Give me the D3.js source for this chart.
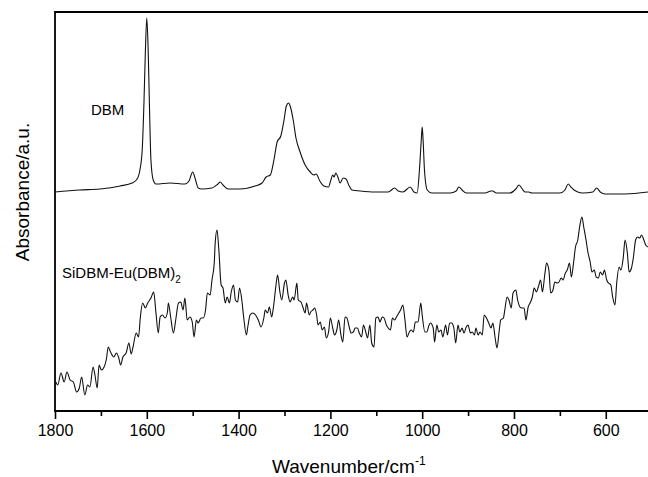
<!doctype html>
<html>
<head>
<meta charset="utf-8">
<style>
  body { margin: 0; background: #fff; }
  svg { display: block; }
  text { font-family: 'Liberation Sans', Arial, sans-serif; fill: #000; }
  .frame { fill: none; stroke: #000; stroke-width: 1.8; }
  .spectrum { fill: none; stroke: #111; stroke-width: 1.1; stroke-linejoin: round; }
  .tick line { stroke: #000; stroke-width: 1.6; }
  .tick text { font-size: 16px; }
  .label { font-size: 15px; }
  .axis-title { font-size: 19px; }
</style>
<script src="https://d3js.org/d3.v7.min.js"></script>
</head>
<body>
<svg width="648" height="477"></svg>
<script>
// [wavenumber (cm-1), absorbance (a.u.)]
const dbm = [
  [1800,2.19],[1746,2.21],[1702,2.22],[1658,2.25],[1632,2.28],[1621,2.32],[1615,2.41],
  [1610,2.61],[1606,3.11],[1603,3.61],[1600,3.93],[1597,3.61],[1594,3.01],[1591,2.51],
  [1586,2.31],[1580,2.27],[1549,2.28],[1517,2.27],[1508,2.30],[1500,2.39],[1495,2.33],
  [1488,2.23],[1480,2.22],[1458,2.23],[1445,2.27],[1440,2.29],[1434,2.26],[1423,2.22],
  [1397,2.22],[1364,2.25],[1349,2.28],[1340,2.34],[1331,2.36],[1323,2.51],[1316,2.69],
  [1308,2.75],[1301,2.91],[1296,3.05],[1291,3.08],[1287,3.04],[1281,2.91],[1275,2.73],
  [1266,2.59],[1255,2.46],[1244,2.39],[1236,2.36],[1231,2.37],[1223,2.30],[1214,2.25],
  [1204,2.24],[1199,2.31],[1195,2.36],[1192,2.34],[1188,2.38],[1183,2.33],[1179,2.28],
  [1172,2.33],[1166,2.32],[1159,2.25],[1153,2.21],[1135,2.20],[1103,2.19],[1074,2.19],
  [1060,2.23],[1052,2.20],[1042,2.19],[1026,2.24],[1018,2.19],[1011,2.18],[1006,2.41],
  [1002,2.71],[1000,2.84],[998,2.71],[995,2.41],[989,2.21],[979,2.18],[939,2.18],
  [926,2.20],[920,2.24],[913,2.21],[904,2.18],[863,2.18],[850,2.20],[846,2.20],[839,2.18],
  [809,2.18],[796,2.22],[789,2.26],[782,2.22],[776,2.19],[768,2.19],[761,2.18],[700,2.18],
  [689,2.21],[682,2.27],[676,2.24],[669,2.21],[661,2.19],[650,2.18],[628,2.19],[620,2.23],
  [612,2.19],[602,2.17],[558,2.17],[508,2.19]
];

const sidbm = [
  [1798,0.29],[1794,0.26],[1787,0.38],[1780,0.29],[1774,0.39],[1767,0.31],[1760,0.29],
  [1753,0.19],[1747,0.23],[1742,0.34],[1735,0.16],[1729,0.26],[1724,0.24],[1717,0.44],
  [1713,0.36],[1708,0.23],[1704,0.46],[1699,0.41],[1693,0.44],[1688,0.52],[1684,0.64],
  [1679,0.59],[1672,0.54],[1666,0.58],[1661,0.53],[1657,0.46],[1652,0.54],[1645,0.58],
  [1639,0.68],[1634,0.57],[1630,0.64],[1623,0.78],[1618,0.74],[1614,0.94],[1609,1.08],
  [1603,1.03],[1598,1.08],[1591,1.13],[1585,1.19],[1580,0.98],[1575,0.78],[1571,0.94],
  [1566,0.96],[1560,0.93],[1555,0.99],[1553,1.08],[1548,0.94],[1542,0.78],[1537,0.91],
  [1531,1.08],[1526,1.09],[1521,1.01],[1517,1.13],[1512,0.91],[1506,0.94],[1501,0.89],
  [1497,0.74],[1492,0.91],[1488,0.88],[1482,0.93],[1477,0.93],[1472,1.01],[1468,1.18],
  [1462,1.16],[1458,1.31],[1453,1.48],[1451,1.68],[1447,1.81],[1443,1.61],[1438,1.26],
  [1434,1.23],[1429,1.08],[1425,1.14],[1420,1.08],[1416,1.19],[1411,1.26],[1407,1.11],
  [1402,1.09],[1398,1.23],[1393,1.11],[1389,0.94],[1383,0.76],[1380,0.84],[1375,0.96],
  [1369,0.98],[1363,0.96],[1357,0.91],[1351,0.84],[1345,0.93],[1342,1.01],[1337,0.98],
  [1333,1.04],[1328,0.94],[1324,1.04],[1319,1.24],[1315,1.36],[1310,1.19],[1306,1.11],
  [1300,1.28],[1297,1.31],[1292,1.16],[1288,1.09],[1282,1.14],[1279,1.11],[1273,1.28],
  [1270,1.11],[1264,1.09],[1260,1.04],[1255,0.98],[1252,1.08],[1246,0.96],[1243,0.99],
  [1238,1.01],[1234,1.03],[1230,0.96],[1227,0.86],[1222,0.89],[1218,0.81],[1213,0.84],
  [1209,0.73],[1204,0.79],[1200,0.93],[1195,0.83],[1191,0.76],[1186,0.81],[1182,0.91],
  [1177,0.76],[1173,0.69],[1168,0.94],[1164,0.93],[1159,0.84],[1155,0.78],[1150,0.79],
  [1146,0.83],[1141,0.83],[1137,0.78],[1132,0.74],[1128,0.86],[1123,0.79],[1119,0.73],
  [1114,0.86],[1110,0.68],[1105,0.64],[1101,0.93],[1096,0.94],[1092,0.89],[1087,0.94],
  [1083,0.93],[1078,0.86],[1074,0.83],[1069,0.81],[1065,0.93],[1060,0.91],[1056,0.94],
  [1051,0.98],[1047,1.01],[1042,1.06],[1038,0.93],[1033,0.74],[1028,0.79],[1024,0.81],
  [1019,0.79],[1015,0.89],[1009,0.89],[1003,1.08],[1000,0.96],[994,0.79],[990,0.79],
  [985,0.86],[982,0.88],[976,0.83],[973,0.69],[968,0.86],[964,0.79],[959,0.81],[955,0.74],
  [949,0.86],[945,0.76],[940,0.88],[936,0.88],[931,0.83],[927,0.68],[922,0.86],[918,0.79],
  [913,0.83],[909,0.78],[904,0.84],[900,0.86],[895,0.78],[891,0.79],[886,0.76],[883,0.83],
  [878,0.76],[874,0.79],[869,0.76],[865,0.96],[860,0.93],[855,0.88],[850,0.83],[846,0.88],
  [841,0.73],[837,0.63],[832,0.81],[829,0.91],[823,0.93],[820,1.01],[815,1.14],[811,1.11],
  [806,1.03],[802,1.18],[796,1.21],[792,1.11],[787,1.04],[783,1.03],[778,1.03],[774,0.91],
  [769,1.04],[765,1.08],[760,1.14],[756,1.23],[751,1.19],[747,1.24],[742,1.31],[738,1.19],
  [733,1.36],[729,1.48],[724,1.41],[720,1.18],[715,1.21],[711,1.29],[706,1.28],[702,1.29],
  [697,1.33],[693,1.31],[688,1.38],[684,1.41],[679,1.48],[675,1.34],[670,1.49],[666,1.64],
  [661,1.71],[657,1.84],[652,1.94],[648,1.84],[643,1.71],[639,1.59],[634,1.49],[630,1.39],
  [625,1.41],[621,1.34],[616,1.33],[612,1.39],[607,1.36],[603,1.41],[598,1.31],[594,1.28],
  [589,1.26],[585,1.14],[580,1.06],[576,1.29],[571,1.44],[567,1.41],[562,1.53],[558,1.71],
  [553,1.58],[549,1.39],[544,1.43],[540,1.53],[535,1.71],[531,1.74],[526,1.73],[522,1.76],
  [517,1.71],[513,1.66],[508,1.64]
];

const majorTicks = [1800, 1600, 1400, 1200, 1000, 800, 600];
const minorTicks = [1700, 1500, 1300, 1100, 900, 700];

const svg = d3.select('svg');

const plotLeft = 55, plotTop = 12, plotBottom = 411, plotRight = 648;

const x = d3.scaleLinear().domain([1800, 508]).range([plotLeft, plotRight]);
const y = d3.scaleLinear().domain([0, 3.99]).range([plotBottom, plotTop]);

const line = d3.line()
    .x(d => x(d[0]))
    .y(d => y(d[1]))
    .curve(d3.curveMonotoneX);

svg.append('path').attr('class', 'spectrum').attr('d', line(dbm));
svg.append('path').attr('class', 'spectrum').attr('d', line(sidbm));

// minor ticks first, then major ticks with labels
svg.append('g')
    .attr('transform', `translate(0, ${plotBottom})`)
    .call(d3.axisBottom(x).tickValues(minorTicks).tickSize(5).tickFormat(''))
    .call(g => g.select('.domain').remove());

svg.append('g')
    .attr('transform', `translate(0, ${plotBottom})`)
    .call(d3.axisBottom(x).tickValues(majorTicks).tickSize(8).tickPadding(6).tickFormat(d3.format('d')))
    .call(g => g.select('.domain').remove())
    .call(g => g.selectAll('text').attr('font-family', null).attr('font-size', null));

// frame (right side runs off the picture)
svg.append('path')
    .attr('class', 'frame')
    .attr('d', `M${plotRight + 10},${plotTop}H${plotLeft}V${plotBottom}H${plotRight + 10}`);

svg.append('text')
    .attr('class', 'label')
    .attr('x', 91)
    .attr('y', 115)
    .text('DBM');

const lbl = svg.append('text')
    .attr('class', 'label')
    .attr('x', 62)
    .attr('y', 278);
lbl.append('tspan').text('SiDBM-Eu(DBM)');
lbl.append('tspan').attr('font-size', 10).attr('dy', 5).text('2');

const xt = svg.append('text')
    .attr('class', 'axis-title')
    .attr('x', 272)
    .attr('y', 473);
xt.append('tspan').text('Wavenumber/cm');
xt.append('tspan').attr('font-size', 12).attr('dy', -8).text('-1');

svg.append('text')
    .attr('class', 'axis-title')
    .attr('transform', 'translate(29, 192) rotate(-90)')
    .attr('text-anchor', 'middle')
    .text('Absorbance/a.u.');
</script>
</body>
</html>
